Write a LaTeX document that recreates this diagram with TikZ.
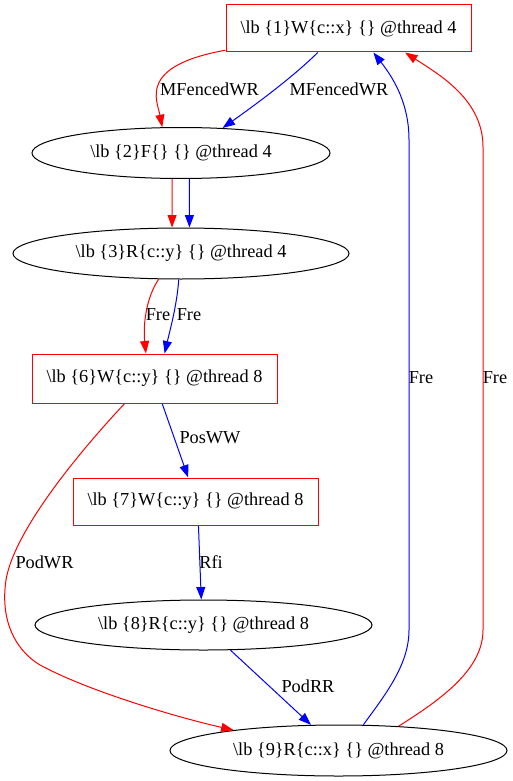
\documentclass[tikz,border=0pt]{standalone}
\usepackage{fontspec}
\setmainfont{Liberation Serif}
\usetikzlibrary{shapes.geometric,arrows.meta}
\newcommand{\lbl}[2]{\textbackslash lb \{#1\}#2}
\begin{document}
\begin{tikzpicture}[x=1pt,y=-1pt,
  every node/.style={font=\fontsize{18.3pt}{20pt}\selectfont, inner sep=0pt},
  rectnode/.style={draw=red, line width=1pt, rectangle, minimum width=245pt, minimum height=47pt},
  ellnode/.style={draw=black, line width=1pt, ellipse, minimum height=51pt},
  redge/.style={draw=red, line width=1pt, -{Triangle[length=12.5pt,width=9pt]}},
  bedge/.style={draw=blue, line width=1pt, -{Triangle[length=12.5pt,width=9pt]}}]
\useasboundingbox (0,0) rectangle (513,781);
% nodes
\node[rectnode] (n1) at (348.5,28.5) {\lbl{1}{W\{c::x\} \{\} @thread 4}};
\node[ellnode, minimum width=298pt] (n2) at (181,153) {\lbl{2}{F\{\} \{\} @thread 4}};
\node[ellnode, minimum width=336pt] (n3) at (181,253.5) {\lbl{3}{R\{c::y\} \{\} @thread 4}};
\node[rectnode, minimum height=49pt] (n6) at (154.5,378.5) {\lbl{6}{W\{c::y\} \{\} @thread 8}};
\node[rectnode] (n7) at (195.5,501.5) {\lbl{7}{W\{c::y\} \{\} @thread 8}};
\node[ellnode, minimum width=337pt, minimum height=50pt] (n8) at (203.5,625) {\lbl{8}{R\{c::y\} \{\} @thread 8}};
\node[ellnode, minimum width=337pt] (n9) at (338.5,750.5) {\lbl{9}{R\{c::x\} \{\} @thread 8}};
% 1 -> 2
\draw[redge] (n1.190) .. controls (138,66) and (157,100) .. (n2.126);
\draw[bedge] (n1.218) .. controls (295,75) and (262,100) .. (n2.31);
\node (l12r) at (209.5,89) {MFencedWR};
\node (l12b) at (339,89) {MFencedWR};
% 2 -> 3
\draw[redge] (n2.-109) -- (n3.109.4);
\draw[bedge] (n2.-72.9) -- (n3.72.6);
% 3 -> 6
\draw[redge] (n3.229) .. controls (146,298) and (143,325) .. (n6.109.1);
\draw[bedge] (n3.265.7) .. controls (177,305) and (170,330) .. (n6.68.8);
\node (l36r) at (158,315) {Fre};
\node (l36b) at (189,315) {Fre};
% 6 -> 7
\draw[bedge] (n6.-73) -- (n7.107.7);
\node (l67) at (210,438) {PosWW};
% 7 -> 8
\draw[bedge] (n7.-83.9) -- (n8.95.7);
\node (l78) at (211,562) {Rfi};
% 8 -> 9
\draw[bedge] (n8.-43.4) -- (n9.137.2);
\node (l89) at (308,686) {PodRR};
% 6 -> 9
\draw[redge] (n6.220.7) .. controls (95,435) and (15,525) .. (6,580)
  .. controls (0,620) and (15,650) .. (40,665)
  .. controls (90,692) and (180,718) .. (n9.169);
\node (l69) at (44.5,562) {PodWR};
% 9 -> 1
\draw[bedge] (n9.46.1) .. controls (385,695) and (409,665) .. (409,630)
  -- (409,140) .. controls (409,105) and (395,80) .. (n1.-44);
\draw[redge] (n9.22.7) .. controls (440,700) and (483,670) .. (483,630)
  -- (483,147) .. controls (483,100) and (440,75) .. (n1.-23);
\node (l91b) at (421,378) {Fre};
\node (l91r) at (495,378) {Fre};
\end{tikzpicture}
\end{document}
